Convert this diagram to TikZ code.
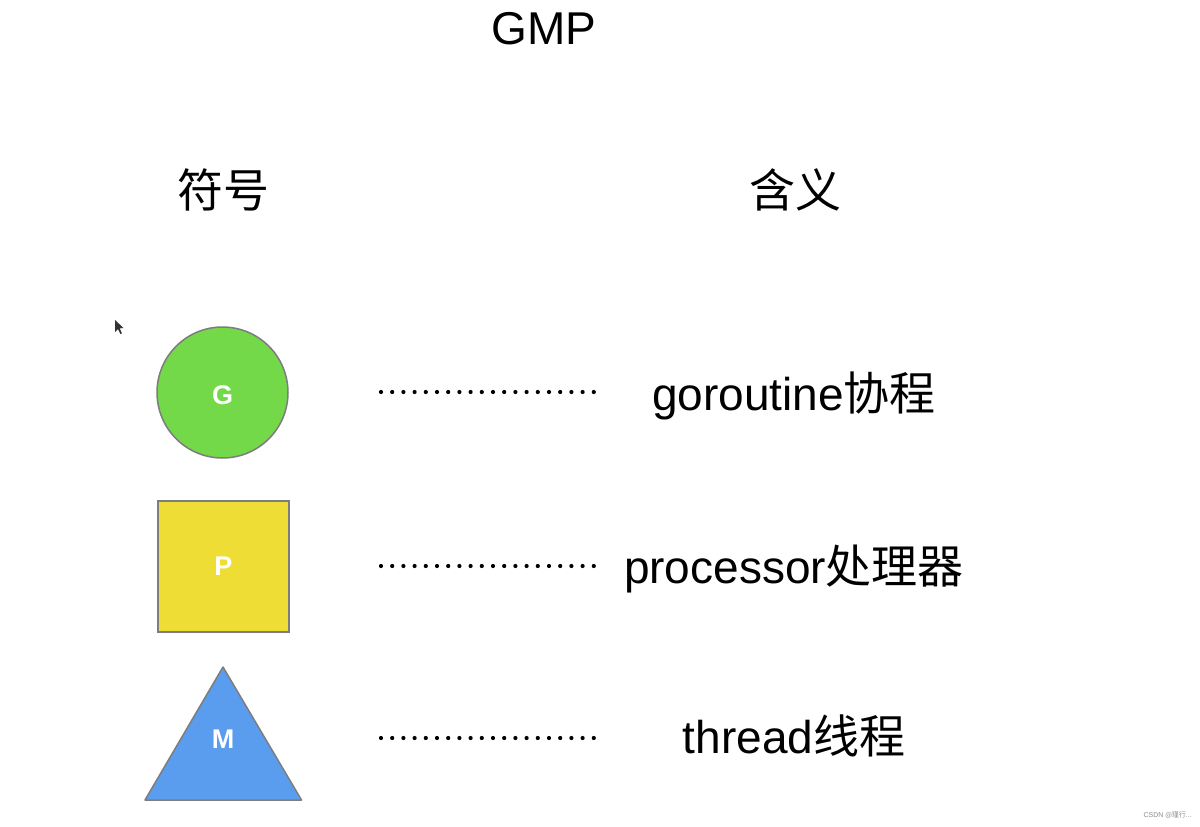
\documentclass[tikz,border=0pt]{standalone}
\usepackage{fontspec}
\setmainfont{Liberation Sans}
\newfontfamily\cjk{Noto Sans CJK SC}
\definecolor{gfill}{RGB}{115,217,72}
\definecolor{pfill}{RGB}{238,221,52}
\definecolor{mfill}{RGB}{90,157,238}
\definecolor{edge}{RGB}{125,125,125}
\begin{document}
\begin{tikzpicture}[x=1pt,y=-1pt,
  bigtext/.style={inner sep=0pt,font=\fontsize{46}{50}\selectfont},
  symlabel/.style={text=white,font=\fontsize{27}{30}\selectfont\bfseries},
  symshape/.style={draw=edge,line width=1.5pt},
  leader/.style={line width=4.2pt,line cap=round,dash pattern=on 0pt off 11.2pt}]
\useasboundingbox (0,0) rectangle (1200,827);
\fill[white] (0,0) rectangle (1200,827);
% title and headers
\node[bigtext] (title) at (544,28.5) {GMP};
\node[bigtext] (fuhao) at (223,190) {\cjk 符号};
\node[bigtext] (hanyi) at (795,190) {\cjk 含义};
% symbols
\draw[symshape,fill=gfill] (222.5,392.5) circle (65.5);
\node[symlabel] (G) at (222.5,395) {G};
\draw[symshape,fill=pfill] (158,501) rectangle (289,632);
\node[symlabel] (P) at (223.5,566) {P};
\draw[symshape,fill=mfill,line join=round] (223,667) -- (301.5,800) -- (145,800) -- cycle;
\node[symlabel] (M) at (223,739) {M};
% meanings
\node[bigtext,anchor=base] (tG) at (794,410) {goroutine{\cjk 协程}};
\node[bigtext,anchor=base] (tP) at (794,583) {processor{\cjk 处理器}};
\node[bigtext,anchor=base] (tM) at (794,753) {thread{\cjk 线程}};
% dotted leaders
\coordinate (gA) at (381,392); \coordinate (gB) at (595,392);
\coordinate (pA) at (381,566); \coordinate (pB) at (595,566);
\coordinate (mA) at (381,738); \coordinate (mB) at (595,738);
\draw[leader] (gA) -- (gB);
\draw[leader] (pA) -- (pB);
\draw[leader] (mA) -- (mB);
% mouse cursor
\fill[black!80] (115,320) -- (115,332) -- (118,329) -- (120.5,334) -- (122,333.3) -- (119.6,328.4) -- (123.5,328) -- cycle;
% watermark
\node[text=black!45,font=\fontsize{7}{8}\selectfont,anchor=east,inner sep=0pt] (wm) at (1192,815) {CSDN {\cjk @瑾行}...};
\end{tikzpicture}
\end{document}
